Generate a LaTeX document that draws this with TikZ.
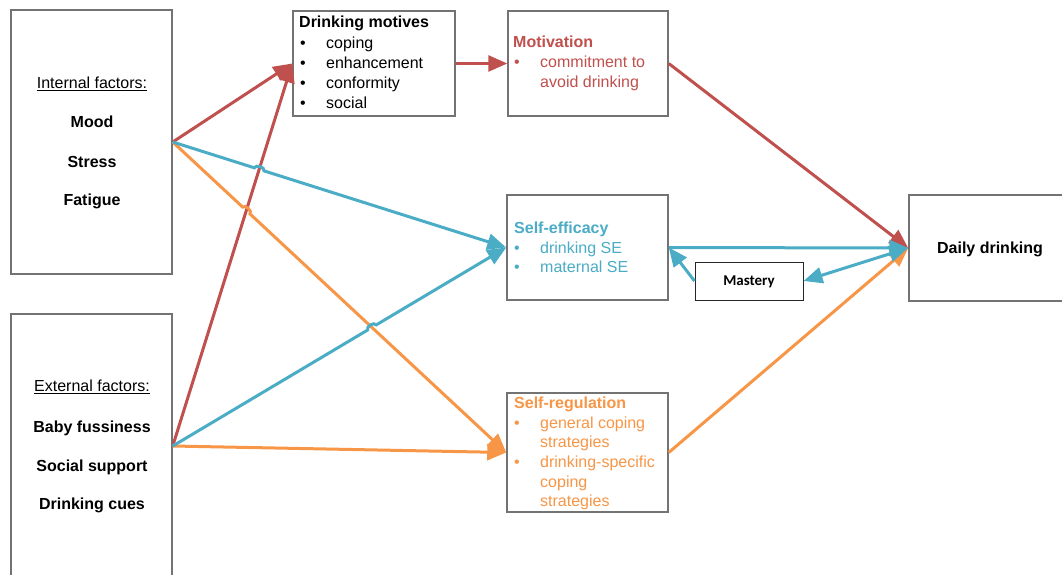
\documentclass[tikz,border=0pt]{standalone}
\usepackage{fontspec}
\setmainfont{Liberation Sans}
\newfontfamily\calib{Carlito}
\usetikzlibrary{arrows.meta,calc,intersections}
\definecolor{cred}{HTML}{C0504D}
\definecolor{cblue}{HTML}{4BACC6}
\definecolor{corange}{HTML}{F79646}
\begin{document}
\begin{tikzpicture}[x=1pt,y=-1pt,
  box/.style={draw=black!55, line width=1.5pt, fill=white, inner sep=0, rectangle},
  smallbox/.style={draw=black!85, line width=1pt, fill=white, inner sep=0, rectangle},
  txt/.style={inner sep=0, text height=12pt, text depth=4pt, yshift=-1.5pt, font=\fontsize{16}{20}\selectfont},
  btxt/.style={inner sep=0, text height=12pt, text depth=4pt, yshift=-1.5pt, font=\fontsize{16}{20}\selectfont\bfseries},
  arr/.style={line width=3pt, -{Triangle[length=19pt,width=16pt]}},
  darr/.style={line width=3pt, {Triangle[length=19pt,width=16pt]}-{Triangle[length=19pt,width=16pt]}},
]
\useasboundingbox (0,0) rectangle (1062,574);
\clip (0,0) rectangle (1062,574);

% boxes
\node[box, minimum width=161pt, minimum height=264pt] (int) at (91.5,142) {};
\node[box, minimum width=161pt, minimum height=264pt] (ext) at (91.5,446) {};
\node[box, minimum width=162pt, minimum height=105pt] (dm) at (374,63.5) {};
\node[box, minimum width=160pt, minimum height=105pt] (mot) at (588,63.5) {};
\node[box, minimum width=161pt, minimum height=105pt] (se) at (587.5,247.5) {};
\node[smallbox, minimum width=108pt, minimum height=38pt] (mas) at (749,281) {};
\node[box, minimum width=161pt, minimum height=119pt] (sr) at (587.5,452.5) {};
\node[box, minimum width=162pt, minimum height=106pt] (dd) at (990,248) {};

% left texts
\node[txt] (intT) at (92,83) {\underline{Internal factors:}};
\node[btxt] (mood) at (92,122) {Mood};
\node[btxt] (stress) at (92,162) {Stress};
\node[btxt] (fatigue) at (92,200) {Fatigue};
\node[txt] (extT) at (92,386) {\underline{External factors:}};
\node[btxt] (baby) at (92,427) {Baby fussiness};
\node[btxt] (social) at (92,466) {Social support};
\node[btxt] (cues) at (92,504) {Drinking cues};

% drinking motives
\node[btxt, anchor=west] (dmT) at (299,22) {Drinking motives};
\node[txt, anchor=center] (dmb1) at (303,43) {•};
\node[txt, anchor=west] (dm1) at (326,43) {coping};
\node[txt, anchor=center] (dmb2) at (303,63) {•};
\node[txt, anchor=west] (dm2) at (326,63) {enhancement};
\node[txt, anchor=center] (dmb3) at (303,83) {•};
\node[txt, anchor=west] (dm3) at (326,83) {conformity};
\node[txt, anchor=center] (dmb4) at (303,103) {•};
\node[txt, anchor=west] (dm4) at (326,103) {social};

% motivation
\node[btxt, anchor=west, text=cred] (motT) at (513,42) {Motivation};
\node[txt, anchor=center, text=cred] (motb1) at (517,62) {•};
\node[txt, anchor=west, text=cred] (mot1) at (540,62) {commitment to};
\node[txt, anchor=west, text=cred] (mot2) at (540,82) {avoid drinking};

% self-efficacy
\node[btxt, anchor=west, text=cblue] (seT) at (514,228) {Self-efficacy};
\node[txt, anchor=center, text=cblue] (seb1) at (517,248) {•};
\node[txt, anchor=west, text=cblue] (se1) at (540,248) {drinking SE};
\node[txt, anchor=center, text=cblue] (seb2) at (517,267) {•};
\node[txt, anchor=west, text=cblue] (se2) at (540,267) {maternal SE};

% self-regulation
\node[btxt, anchor=west, text=corange] (srT) at (514,403) {Self-regulation};
\node[txt, anchor=center, text=corange] (srb1) at (517,423) {•};
\node[txt, anchor=west, text=corange] (sr1) at (540,423) {general coping};
\node[txt, anchor=west, text=corange] (sr2) at (540,442) {strategies};
\node[txt, anchor=center, text=corange] (srb2) at (517,462) {•};
\node[txt, anchor=west, text=corange] (sr3) at (540,462) {drinking-specific};
\node[txt, anchor=west, text=corange] (sr4) at (540,482) {coping};
\node[txt, anchor=west, text=corange] (sr5) at (540,501) {strategies};

% mastery and daily drinking
\node[inner sep=0, font=\calib\fontsize{15}{18}\selectfont\bfseries] (masT) at (749,282) {Mastery};
\node[btxt] (ddT) at (990,248) {Daily drinking};

% helper paths for hops
\path[name path=redext] (ext.east) -- (dm.west);
\path[name path=blueint] (int.east) -- (se.west);
\path[name path=orint] (int.east) -- (sr.west);
\path[name path=blueext] (ext.east) -- (se.west);
\path[name intersections={of=blueint and redext, by=X1}];
\path[name intersections={of=orint and redext, by=X2}];
\path[name intersections={of=blueext and orint, by=X3}];

% red connectors
\draw[arr, cred] (int.east) -- (dm.west);
\draw[arr, cred] (ext.east) -- (dm.west);
\draw[arr, cred] (dm.east) -- (mot.west);
\draw[arr, cred] (mot.east) -- (dd.west);

% orange connectors
\draw[arr, corange] (int.east) -- ($(X2)!5pt!(int.east)$) to[bend left=90] ($(X2)!5pt!(sr.west)$) -- (sr.west);
\draw[arr, corange] (ext.east) -- (sr.west);
\draw[arr, corange] (sr.east) -- (dd.west);

% blue connectors
\draw[arr, cblue] (int.east) -- ($(X1)!5pt!(int.east)$) to[bend left=90] ($(X1)!5pt!(se.west)$) -- (se.west);
\draw[arr, cblue] (ext.east) -- ($(X3)!5pt!(ext.east)$) to[bend left=90] ($(X3)!5pt!(se.west)$) -- (se.west);
\draw[arr, cblue] (se.east) -- (dd.west);
\draw[darr, cblue] (dd.west) -- (mas.east);
\draw[arr, cblue] (mas.west) -- (se.east);
\end{tikzpicture}
\end{document}
